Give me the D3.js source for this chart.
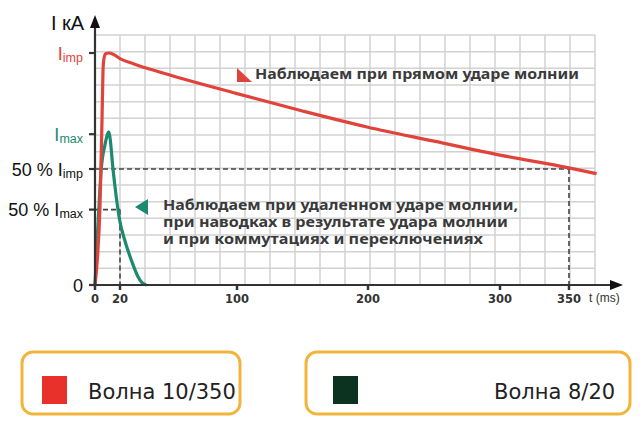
<!DOCTYPE html>
<html><head><meta charset="utf-8">
<script src="https://cdn.jsdelivr.net/npm/d3@7/dist/d3.min.js"></script>
<style>body{margin:0;background:#fff}svg{display:block}</style>
</head><body>
<svg id="c" width="640" height="422"></svg>
<script>
// ---- data ----
const xTicks = [0, 20, 100, 200, 300, 350];
const xTickLabels = ["0", "20", "100", "200", "300", "350"];
const yTickValues = [100, 65, 50, 32.5, 0];
const yTickPrefix = ["", "", "50 % ", "50 % ", ""];
const yTickMain = ["I", "I", "I", "I", "0"];
const yTickSub = ["imp", "max", "imp", "max", ""];
const wave1Name = "Волна 10/350";
const wave2Name = "Волна 8/20";
// wave 10/350 : time (ms), current (% of Iimp)
const redT = [0, 2, 4, 5.6, 6.4, 7, 8.5, 11, 14, 20, 30, 47, 100, 150, 200, 250, 300, 350, 370];
const redV = [0, 12, 34, 71, 92, 97, 99.7, 100, 99.6, 97.6, 95.2, 91.8, 82.5, 75, 68, 62, 56, 50.5, 48];
// wave 8/20
const greenT = [0, 1, 2.5, 5, 8, 10, 11, 12, 14.4, 17, 19.7, 23.2, 27.7, 32.3, 35, 38];
const greenV = [0, 12, 27, 50, 60.5, 65, 66, 63.5, 50, 38, 28, 19.4, 10.8, 3.6, 1, 0];
const note1 = "Наблюдаем при прямом ударе молнии";
const note2 = ["Наблюдаем при удаленном ударе молнии,", "при наводках в результате удара молнии", "и при коммутациях и переключениях"];
const axisY = "I кА";
const axisX = "t (ms)";

// ---- scales ----
const x = d3.scaleLinear().domain([0, 20, 100, 200, 300, 350]).range([95, 120, 237, 368, 500, 569]);
const y = d3.scaleLinear().domain([0, 100]).range([285, 53]);
const gx = d3.scaleLinear().domain([0, 20]).range([95, 595]);
const gy = d3.scaleLinear().domain([0, 15]).range([285, 35]);

const svg = d3.select("#c");
const RED = "#e0433a", TEAL = "#1b8a6f", AX = "#333";

// grid
const grid = svg.append("g").attr("class", "grid");
grid.selectAll("line.gv").data(d3.range(0, 21)).join("line").attr("class", "gv")
  .attr("x1", d => gx(d)).attr("x2", d => gx(d)).attr("y1", gy(0)).attr("y2", gy(15))
  .attr("stroke", "#d2d2d2").attr("stroke-width", 1.5);
grid.selectAll("line.gh").data(d3.range(0, 16)).join("line").attr("class", "gh")
  .attr("x1", gx(0)).attr("x2", gx(20)).attr("y1", d => gy(d)).attr("y2", d => gy(d))
  .attr("stroke", "#d2d2d2").attr("stroke-width", 1.5);

// dashed helper lines
const dash = svg.append("g").attr("stroke", "#444").attr("stroke-width", 1.6).attr("stroke-dasharray", "5,3");
dash.append("line").attr("x1", x(0)).attr("x2", x(350)).attr("y1", y(50)).attr("y2", y(50));
dash.append("line").attr("x1", x(350)).attr("x2", x(350)).attr("y1", y(50)).attr("y2", y(0));
dash.append("line").attr("x1", x(0)).attr("x2", x(20)).attr("y1", y(32.5)).attr("y2", y(32.5));
dash.append("line").attr("x1", x(20)).attr("x2", x(20)).attr("y1", y(32.5)).attr("y2", y(0));

// curves
const line = d3.line().x(d => x(d[0])).y(d => y(d[1])).curve(d3.curveMonotoneX);
svg.append("path").datum(greenT.map((t, i) => [t, greenV[i]]))
  .attr("d", line).attr("fill", "none").attr("stroke", TEAL).attr("stroke-width", 3.2).attr("stroke-linejoin", "round");
svg.append("path").datum(redT.map((t, i) => [t, redV[i]]))
  .attr("d", line).attr("fill", "none").attr("stroke", RED).attr("stroke-width", 3.2).attr("stroke-linejoin", "round");

// axes
const ax = svg.append("g");
ax.append("line").attr("x1", x(0)).attr("x2", 612).attr("y1", y(0)).attr("y2", y(0)).attr("stroke", AX).attr("stroke-width", 2.2);
ax.append("line").attr("x1", x(0)).attr("x2", x(0)).attr("y1", y(0) + 2).attr("y2", 26).attr("stroke", AX).attr("stroke-width", 2.2);
ax.append("path").attr("d", `M${x(0)},15 L${x(0) - 5},28 L${x(0) + 5},28 Z`).attr("fill", "#111");
ax.append("path").attr("d", `M623,${y(0)} L610,${y(0) - 5} L610,${y(0) + 5} Z`).attr("fill", "#111");

// x ticks
ax.selectAll("line.xt").data(xTicks).join("line").attr("class", "xt")
  .attr("x1", d => x(d)).attr("x2", d => x(d)).attr("y1", y(0)).attr("y2", y(0) + 5)
  .attr("stroke", AX).attr("stroke-width", 2.5);
ax.selectAll("text.xl").data(xTicks).join("text").attr("class", "xl")
  .attr("x", d => x(d)).attr("y", 303).attr("text-anchor", "middle")
  .attr("font-family", "DejaVu Sans, Verdana, sans-serif").attr("font-weight", "bold").attr("font-size", 11.5)
  .attr("fill", "#333").text((d, i) => xTickLabels[i]);
ax.append("text").attr("x", 589).attr("y", 302).attr("font-family", "Liberation Sans Narrow, Arial Narrow, sans-serif")
  .attr("font-size", 12).attr("fill", "#333").text(axisX);

// y ticks
ax.selectAll("line.yt").data(yTickValues).join("line").attr("class", "yt")
  .attr("x1", x(0) - 6).attr("x2", x(0)).attr("y1", d => y(d)).attr("y2", d => y(d))
  .attr("stroke", AX).attr("stroke-width", 2.2);
const labelColor = i => (i === 0 ? RED : i === 1 ? TEAL : "#111");
ax.selectAll("text.yl").data(yTickValues).join("text").attr("class", "yl")
  .attr("x", 83).attr("y", d => y(d) + 6.5).attr("text-anchor", "end")
  .attr("font-family", "Liberation Sans Narrow, Arial Narrow, sans-serif").attr("font-size", 18)
  .attr("fill", (d, i) => labelColor(i))
  .each(function (d, i) {
    const t = d3.select(this);
    if (yTickPrefix[i]) t.append("tspan").text(yTickPrefix[i]);
    t.append("tspan").text(yTickMain[i]);
    if (yTickSub[i]) t.append("tspan").attr("font-size", 12.5).attr("dy", 2).text(yTickSub[i]);
  });
ax.append("text").attr("x", 51).attr("y", 30).attr("font-family", "Liberation Sans Narrow, Arial Narrow, sans-serif")
  .attr("font-size", 20).attr("fill", "#111").text(axisY);

// annotations
svg.append("path").attr("d", "M237,68 L237,82 L252,82 Z").attr("fill", RED);
svg.append("text").attr("x", 255).attr("y", 79).attr("font-family", "Noto Sans, Open Sans, sans-serif")
  .attr("font-weight", "bold").attr("font-size", 13.5).attr("fill", "#3a3a3a")
  .attr("textLength", 324).attr("lengthAdjust", "spacingAndGlyphs").text(note1);
svg.append("path").attr("d", "M135,207 L148,199 L148,215 Z").attr("fill", TEAL);
const note2Len = [355, 345, 320];
svg.selectAll("text.n2").data(note2).join("text").attr("class", "n2")
  .attr("x", 163).attr("y", (d, i) => 210 + i * 16.8)
  .attr("font-family", "Noto Sans, Open Sans, sans-serif").attr("font-weight", "bold").attr("font-size", 13.5)
  .attr("fill", "#3a3a3a").attr("textLength", (d, i) => note2Len[i]).attr("lengthAdjust", "spacingAndGlyphs").text(d => d);

// legend
const legend = [
  { name: wave1Name, color: "#e8312a", x0: 22, x1: 240, sx: 42, tx: 88 },
  { name: wave2Name, color: "#0c3320", x0: 306, x1: 630, sx: 333, tx: 494 }
];
const lg = svg.selectAll("g.lg").data(legend).join("g").attr("class", "lg");
lg.append("rect").attr("x", d => d.x0).attr("y", 352).attr("width", d => d.x1 - d.x0).attr("height", 62)
  .attr("rx", 11).attr("fill", "#fff").attr("stroke", "#f0b53a").attr("stroke-width", 3);
lg.append("rect").attr("x", d => d.sx).attr("y", 376).attr("width", 25).attr("height", 28).attr("fill", d => d.color);
lg.append("text").attr("x", d => d.tx).attr("y", 399)
  .attr("font-family", "DejaVu Sans, Verdana, sans-serif").attr("font-size", 21).attr("fill", "#222").text(d => d.name);
</script>
</body></html>
